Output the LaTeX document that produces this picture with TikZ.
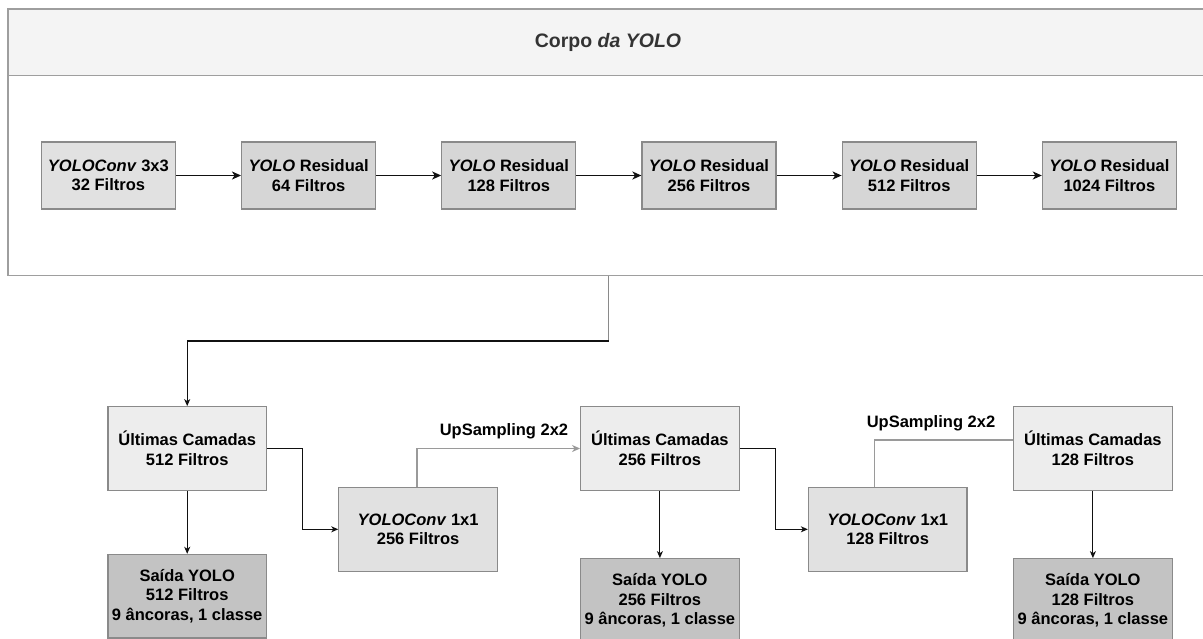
\documentclass[tikz,border=0pt]{standalone}
\usepackage{fontspec}
\setmainfont{Liberation Sans}
\usetikzlibrary{arrows.meta}

\definecolor{panelline}{HTML}{9E9E9E}
\definecolor{panelhead}{HTML}{F4F4F4}
\definecolor{titletext}{HTML}{333333}
\definecolor{boxline}{HTML}{8A8A8A}
\definecolor{convfill}{HTML}{E1E1E1}
\definecolor{resfill}{HTML}{D6D6D6}
\definecolor{lastfill}{HTML}{EDEDED}
\definecolor{outfill}{HTML}{C3C3C3}
\definecolor{upline}{HTML}{9A9A9A}
\definecolor{wire}{HTML}{111111}

\tikzset{
  labelfont/.style={font=\bfseries\fontsize{16.5}{19.5}\selectfont},
  blk/.style={draw=boxline, line width=1.2pt, inner sep=0pt, align=center,
    text=black, labelfont},
  toprow/.style={blk, minimum width=134pt, minimum height=67pt},
  lower/.style={blk, minimum width=158.5pt, minimum height=83.6pt},
  link/.style={draw=wire, line width=1.5pt, -{Stealth[length=9pt,width=8pt,inset=2.5pt]}},
  thin link/.style={draw=wire, line width=1.1pt, -{Stealth[length=7pt,width=6pt,inset=2pt]}},
  up link/.style={draw=upline, line width=1.3pt},
}

\begin{document}
\begin{tikzpicture}[x=1pt, y=-1pt]
\useasboundingbox (0,0) rectangle (1203,638);
\clip (0,0) rectangle (1203,638);
\fill[white] (0,0) rectangle (1203,638);

% backbone container with its title bar
\node[draw=panelline, line width=1.2pt, fill=white, minimum width=1200pt,
      minimum height=266.5pt, inner sep=0pt] (corpo) at (608,142.25) {};
\node[draw=panelline, line width=1.2pt, fill=panelhead, minimum width=1200pt,
      minimum height=66.5pt, inner sep=0pt, text=titletext,
      font=\bfseries\fontsize{19.5}{23}\selectfont] (hdr) at (608,42.25)
      {Corpo \textit{da YOLO}};

% backbone blocks
\node[toprow, fill=convfill] (b1) at (108.4,175.5) {\textit{YOLOConv} 3x3\\32 Filtros};
\node[toprow, fill=resfill]  (b2) at (308.6,175.5) {\textit{YOLO} Residual\\64 Filtros};
\node[toprow, fill=resfill]  (b3) at (508.8,175.5) {\textit{YOLO} Residual\\128 Filtros};
\node[toprow, fill=resfill]  (b4) at (709.0,175.5) {\textit{YOLO} Residual\\256 Filtros};
\node[toprow, fill=resfill]  (b5) at (909.2,175.5) {\textit{YOLO} Residual\\512 Filtros};
\node[toprow, fill=resfill]  (b6) at (1109.4,175.5) {\textit{YOLO} Residual\\1024 Filtros};

\draw[link] (b1.east) -- (b2.west);
\draw[link] (b2.east) -- (b3.west);
\draw[link] (b3.east) -- (b4.west);
\draw[link] (b4.east) -- (b5.west);
\draw[link] (b5.east) -- (b6.west);

% detection heads
\node[lower, fill=lastfill] (u512) at (187.2,448.5) {Últimas Camadas\\512 Filtros};
\node[lower, fill=outfill]  (s512) at (187.2,596.2) {Saída YOLO\\512 Filtros\\9 âncoras, 1 classe};
\node[lower, fill=convfill] (c256) at (418.1,529.3) {\textit{YOLOConv} 1x1\\256 Filtros};
\node[lower, fill=lastfill] (u256) at (659.9,448.5) {Últimas Camadas\\256 Filtros};
\node[lower, fill=outfill]  (s256) at (659.9,600.5) {Saída YOLO\\256 Filtros\\9 âncoras, 1 classe};
\node[lower, fill=convfill] (c128) at (887.7,529.3) {\textit{YOLOConv} 1x1\\128 Filtros};
\node[lower, fill=lastfill] (u128) at (1092.9,448.5) {Últimas Camadas\\128 Filtros};
\node[lower, fill=outfill]  (s128) at (1092.9,600.5) {Saída YOLO\\128 Filtros\\9 âncoras, 1 classe};

% backbone output feeding the first head
\coordinate (drop) at (608.5,341);
\draw[draw=boxline, line width=1.3pt] (corpo.south -| drop) -- (drop);
\draw[thin link] (drop) -| (u512.north);

\draw[thin link] (u512.south) -- (s512.north);
\draw[thin link] (u256.south) -- (s256.north);
\draw[thin link] (u128.south) -- (s128.north);

\draw[thin link] (u512.east) -- ++(35,0) |- (c256.west);
\draw[thin link] (u256.east) -- ++(35.5,0) |- (c128.west);

% upsampling paths
\draw[up link, -{Stealth[length=8pt,width=7pt,inset=2.5pt]}]
  ([xshift=-1pt]c256.north) |- (u256.west);
\node[labelfont, text=black, inner sep=0pt] (lab1) at (504,431.7) {UpSampling 2x2};
\draw[up link] ([xshift=-13.5pt]c128.north) |- ([yshift=8.5pt]u128.west);
\node[labelfont, text=black, inner sep=0pt] (lab2) at (931,423.3) {UpSampling 2x2};
\end{tikzpicture}
\end{document}
